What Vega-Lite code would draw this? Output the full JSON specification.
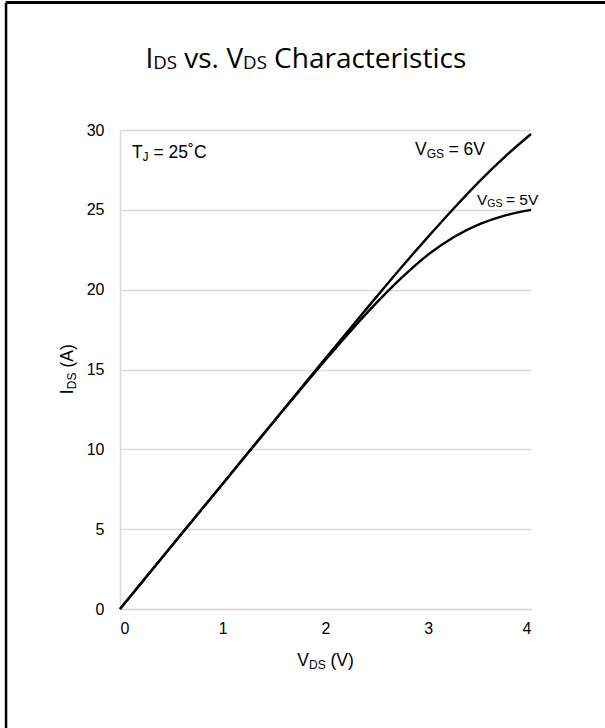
{
  "$schema": "https://vega.github.io/schema/vega-lite/v6.json",
  "autosize": "none",
  "width": 411,
  "height": 479,
  "padding": {"left": 120, "top": 130, "right": 74, "bottom": 119},
  "background": "white",
  "config": {"view": {"stroke": null}},
  "data": {"values": [{}]},
  "datasets": {
    "curves": [
      {"vds": 0, "ids": 0, "curve": "VGS = 6V"},
      {"vds": 0.5, "ids": 3.93, "curve": "VGS = 6V"},
      {"vds": 1, "ids": 7.85, "curve": "VGS = 6V"},
      {"vds": 1.5, "ids": 11.78, "curve": "VGS = 6V"},
      {"vds": 2, "ids": 15.7, "curve": "VGS = 6V"},
      {"vds": 2.25, "ids": 17.65, "curve": "VGS = 6V"},
      {"vds": 2.5, "ids": 19.58, "curve": "VGS = 6V"},
      {"vds": 2.75, "ids": 21.48, "curve": "VGS = 6V"},
      {"vds": 3, "ids": 23.32, "curve": "VGS = 6V"},
      {"vds": 3.25, "ids": 25.1, "curve": "VGS = 6V"},
      {"vds": 3.5, "ids": 26.8, "curve": "VGS = 6V"},
      {"vds": 3.75, "ids": 28.35, "curve": "VGS = 6V"},
      {"vds": 4, "ids": 29.75, "curve": "VGS = 6V"},
      {"vds": 0, "ids": 0, "curve": "VGS = 5V"},
      {"vds": 0.5, "ids": 3.93, "curve": "VGS = 5V"},
      {"vds": 1, "ids": 7.85, "curve": "VGS = 5V"},
      {"vds": 1.5, "ids": 11.76, "curve": "VGS = 5V"},
      {"vds": 2, "ids": 15.6, "curve": "VGS = 5V"},
      {"vds": 2.25, "ids": 17.45, "curve": "VGS = 5V"},
      {"vds": 2.5, "ids": 19.2, "curve": "VGS = 5V"},
      {"vds": 2.75, "ids": 20.8, "curve": "VGS = 5V"},
      {"vds": 3, "ids": 22.2, "curve": "VGS = 5V"},
      {"vds": 3.25, "ids": 23.3, "curve": "VGS = 5V"},
      {"vds": 3.5, "ids": 24.1, "curve": "VGS = 5V"},
      {"vds": 3.75, "ids": 24.65, "curve": "VGS = 5V"},
      {"vds": 4, "ids": 25.0, "curve": "VGS = 5V"}
    ]
  },
  "layer": [
    {
      "data": {"name": "curves"},
      "mark": {"type": "line", "color": "black", "strokeWidth": 2.4, "interpolate": "monotone", "clip": false},
      "encoding": {
        "x": {
          "field": "vds", "type": "quantitative",
          "scale": {"domain": [0, 4], "nice": false, "zero": false},
          "axis": {
            "title": null, "values": [0, 1, 2, 3, 4], "format": "d", "grid": false, "ticks": false,
            "domainColor": "#d9d9d9", "domainWidth": 1.5,
            "labelFont": "Liberation Sans", "labelFontSize": 16, "labelColor": "black",
            "labelPadding": 11
          }
        },
        "y": {
          "field": "ids", "type": "quantitative",
          "scale": {"domain": [0, 30], "nice": false, "zero": false},
          "axis": {
            "title": null, "values": [0, 5, 10, 15, 20, 25, 30], "format": "d", "grid": true,
            "gridColor": "#d9d9d9", "gridWidth": 1.5, "ticks": false,
            "domainColor": "#d9d9d9", "domainWidth": 1.5,
            "labelFont": "Liberation Sans", "labelFontSize": 16, "labelColor": "black",
            "labelPadding": 16
          }
        },
        "detail": {"field": "curve", "type": "nominal"}
      }
    },
    {
      "mark": {"type": "rule", "color": "black", "strokeWidth": 3, "clip": false},
      "encoding": {"x": {"datum": -1.11}, "x2": {"datum": 5}, "y": {"datum": 37.98}}
    },
    {
      "mark": {"type": "rule", "color": "black", "strokeWidth": 2.5, "clip": false},
      "encoding": {"x": {"datum": -1.109}, "y": {"datum": -8}, "y2": {"datum": 37.98}}
    },
    {"mark": {"type": "text", "text": "I", "font": "Open Sans", "fontSize": 28, "align": "left", "baseline": "alphabetic", "dx": -160.5, "color": "black"},
     "encoding": {"x": {"datum": 1.81}, "y": {"datum": 33.88}}},
    {"mark": {"type": "text", "text": "DS", "font": "Open Sans", "fontSize": 18.7, "align": "left", "baseline": "alphabetic", "dx": -152.7, "dy": 1, "color": "black"},
     "encoding": {"x": {"datum": 1.81}, "y": {"datum": 33.88}}},
    {"mark": {"type": "text", "text": "vs.", "font": "Open Sans", "fontSize": 28, "align": "left", "baseline": "alphabetic", "dx": -121.7, "color": "black"},
     "encoding": {"x": {"datum": 1.81}, "y": {"datum": 33.88}}},
    {"mark": {"type": "text", "text": "V", "font": "Open Sans", "fontSize": 28, "align": "left", "baseline": "alphabetic", "dx": -79.5, "color": "black"},
     "encoding": {"x": {"datum": 1.81}, "y": {"datum": 33.88}}},
    {"mark": {"type": "text", "text": "DS", "font": "Open Sans", "fontSize": 18.7, "align": "left", "baseline": "alphabetic", "dx": -62.9, "dy": 1, "color": "black"},
     "encoding": {"x": {"datum": 1.81}, "y": {"datum": 33.88}}},
    {"mark": {"type": "text", "text": "Characteristics", "font": "Open Sans", "fontSize": 28, "align": "left", "baseline": "alphabetic", "dx": -31.9, "color": "black"},
     "encoding": {"x": {"datum": 1.81}, "y": {"datum": 33.88}}},
    {"mark": {"type": "text", "text": "T", "font": "Liberation Sans", "fontSize": 17.5, "align": "left", "baseline": "alphabetic", "color": "black"},
     "encoding": {"x": {"datum": 0.117}, "y": {"datum": 28.24}}},
    {"mark": {"type": "text", "text": "J", "font": "Liberation Sans", "fontSize": 12, "align": "left", "baseline": "alphabetic", "dx": 10.5, "dy": 2.5, "color": "black"},
     "encoding": {"x": {"datum": 0.117}, "y": {"datum": 28.24}}},
    {"mark": {"type": "text", "text": "= 25˚C", "font": "Liberation Sans", "fontSize": 17.5, "align": "left", "baseline": "alphabetic", "dx": 21.5, "color": "black"},
     "encoding": {"x": {"datum": 0.117}, "y": {"datum": 28.24}}},
    {"mark": {"type": "text", "text": "V", "font": "Liberation Sans", "fontSize": 17.5, "align": "left", "baseline": "alphabetic", "color": "black"},
     "encoding": {"x": {"datum": 2.871}, "y": {"datum": 28.43}}},
    {"mark": {"type": "text", "text": "GS", "font": "Liberation Sans", "fontSize": 12, "align": "left", "baseline": "alphabetic", "dx": 11.7, "dy": 2.5, "color": "black"},
     "encoding": {"x": {"datum": 2.871}, "y": {"datum": 28.43}}},
    {"mark": {"type": "text", "text": "= 6V", "font": "Liberation Sans", "fontSize": 17.5, "align": "left", "baseline": "alphabetic", "dx": 33.5, "color": "black"},
     "encoding": {"x": {"datum": 2.871}, "y": {"datum": 28.43}}},
    {"mark": {"type": "text", "text": "V", "font": "Liberation Sans", "fontSize": 15.5, "align": "left", "baseline": "alphabetic", "color": "black"},
     "encoding": {"x": {"datum": 3.474}, "y": {"datum": 25.3}}},
    {"mark": {"type": "text", "text": "GS", "font": "Liberation Sans", "fontSize": 10.5, "align": "left", "baseline": "alphabetic", "dx": 10.3, "dy": 2, "color": "black"},
     "encoding": {"x": {"datum": 3.474}, "y": {"datum": 25.3}}},
    {"mark": {"type": "text", "text": "= 5V", "font": "Liberation Sans", "fontSize": 15.5, "align": "left", "baseline": "alphabetic", "dx": 29, "color": "black"},
     "encoding": {"x": {"datum": 3.474}, "y": {"datum": 25.3}}},
    {"mark": {"type": "text", "text": "V", "font": "Liberation Sans", "fontSize": 17.5, "align": "left", "baseline": "alphabetic", "dx": -28.2, "color": "black"},
     "encoding": {"x": {"datum": 2}, "y": {"datum": -3.57}}},
    {"mark": {"type": "text", "text": "DS", "font": "Liberation Sans", "fontSize": 12, "align": "left", "baseline": "alphabetic", "dx": -16.5, "dy": 2.5, "color": "black"},
     "encoding": {"x": {"datum": 2}, "y": {"datum": -3.57}}},
    {"mark": {"type": "text", "text": "(V)", "font": "Liberation Sans", "fontSize": 17.5, "align": "left", "baseline": "alphabetic", "dx": 5, "color": "black"},
     "encoding": {"x": {"datum": 2}, "y": {"datum": -3.57}}},
    {"mark": {"type": "text", "text": "I", "font": "Liberation Sans", "fontSize": 17.5, "align": "left", "baseline": "alphabetic", "angle": 270, "dx": -24.8, "color": "black"},
     "encoding": {"x": {"datum": -0.457}, "y": {"datum": 15}}},
    {"mark": {"type": "text", "text": "DS", "font": "Liberation Sans", "fontSize": 12, "align": "left", "baseline": "alphabetic", "angle": 270, "dx": -19.7, "dy": 2.5, "color": "black"},
     "encoding": {"x": {"datum": -0.457}, "y": {"datum": 15}}},
    {"mark": {"type": "text", "text": "(A)", "font": "Liberation Sans", "fontSize": 17.5, "align": "left", "baseline": "alphabetic", "angle": 270, "dx": 2, "color": "black"},
     "encoding": {"x": {"datum": -0.457}, "y": {"datum": 15}}}
  ]
}
